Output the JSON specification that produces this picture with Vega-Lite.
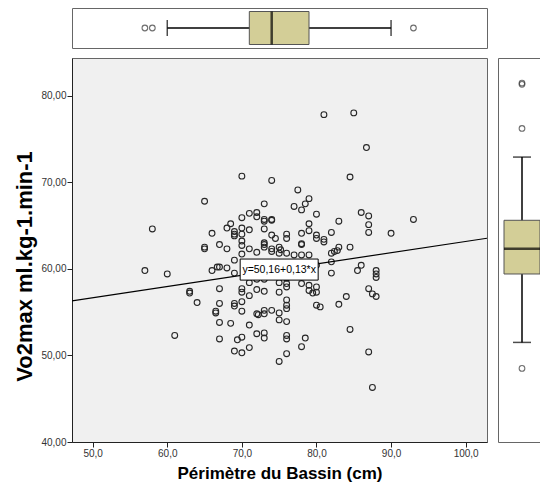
{
  "$schema": "https://vega.github.io/schema/vega-lite/v6.json",
  "background": "white",
  "padding": {"left": 13, "top": 7, "right": 0, "bottom": 0},
  "config": {
    "font": "Liberation Sans",
    "view": {"stroke": "#666"},
    "axis": {
      "grid": false,
      "domainColor": "#222",
      "tickColor": "#222",
      "tickSize": 5,
      "labelFontSize": 10,
      "labelColor": "#333",
      "labelPadding": 1,
      "titleColor": "#000",
      "titleFontWeight": "bold"
    }
  },
  "datasets": {
    "scatter": [
      {"perimetre": 57, "vo2max": 59.8}, {"perimetre": 58, "vo2max": 64.6}, {"perimetre": 60, "vo2max": 59.4}, {"perimetre": 61, "vo2max": 52.3},
      {"perimetre": 63, "vo2max": 57.4}, {"perimetre": 63, "vo2max": 57.2}, {"perimetre": 64, "vo2max": 56.1},
      {"perimetre": 65, "vo2max": 67.8}, {"perimetre": 65, "vo2max": 62.5}, {"perimetre": 65, "vo2max": 62.3},
      {"perimetre": 66, "vo2max": 64.1}, {"perimetre": 66, "vo2max": 59.8}, {"perimetre": 66.5, "vo2max": 55.1}, {"perimetre": 66.5, "vo2max": 54.9}, {"perimetre": 66.7, "vo2max": 60.2},
      {"perimetre": 67, "vo2max": 62.8}, {"perimetre": 67, "vo2max": 60.2}, {"perimetre": 67, "vo2max": 57.7}, {"perimetre": 67, "vo2max": 56.0}, {"perimetre": 67, "vo2max": 53.8}, {"perimetre": 67, "vo2max": 51.9},
      {"perimetre": 68, "vo2max": 64.7}, {"perimetre": 68, "vo2max": 62.3}, {"perimetre": 68, "vo2max": 60.1}, {"perimetre": 68.5, "vo2max": 65.2}, {"perimetre": 68.5, "vo2max": 53.7},
      {"perimetre": 69, "vo2max": 64.3}, {"perimetre": 69, "vo2max": 64.0}, {"perimetre": 69, "vo2max": 63.8}, {"perimetre": 69, "vo2max": 59.5}, {"perimetre": 69, "vo2max": 56.0}, {"perimetre": 69, "vo2max": 55.7}, {"perimetre": 69, "vo2max": 50.5}, {"perimetre": 69.4, "vo2max": 51.8}, {"perimetre": 69, "vo2max": 61.0},
      {"perimetre": 70, "vo2max": 70.7}, {"perimetre": 70, "vo2max": 65.9}, {"perimetre": 70, "vo2max": 64.7}, {"perimetre": 70, "vo2max": 64.0}, {"perimetre": 70, "vo2max": 63.2}, {"perimetre": 70, "vo2max": 62.7}, {"perimetre": 70, "vo2max": 61.7}, {"perimetre": 70, "vo2max": 57.7}, {"perimetre": 70, "vo2max": 57.3}, {"perimetre": 70, "vo2max": 56.2}, {"perimetre": 70, "vo2max": 55.1}, {"perimetre": 70, "vo2max": 52.1}, {"perimetre": 70, "vo2max": 50.3},
      {"perimetre": 71, "vo2max": 66.4}, {"perimetre": 71, "vo2max": 64.5}, {"perimetre": 71, "vo2max": 62.3}, {"perimetre": 71, "vo2max": 58.4}, {"perimetre": 71, "vo2max": 56.9}, {"perimetre": 71, "vo2max": 53.5}, {"perimetre": 71, "vo2max": 50.9}, {"perimetre": 71.5, "vo2max": 60.0},
      {"perimetre": 72, "vo2max": 66.5}, {"perimetre": 72, "vo2max": 66.0}, {"perimetre": 72, "vo2max": 61.9}, {"perimetre": 72, "vo2max": 58.8}, {"perimetre": 72, "vo2max": 57.6}, {"perimetre": 72, "vo2max": 54.8}, {"perimetre": 72.2, "vo2max": 54.7}, {"perimetre": 72, "vo2max": 52.5},
      {"perimetre": 73, "vo2max": 67.5}, {"perimetre": 73, "vo2max": 65.7}, {"perimetre": 73, "vo2max": 65.5}, {"perimetre": 73, "vo2max": 64.6}, {"perimetre": 73, "vo2max": 63.0}, {"perimetre": 73, "vo2max": 62.8}, {"perimetre": 73, "vo2max": 62.5}, {"perimetre": 73, "vo2max": 60.3}, {"perimetre": 73, "vo2max": 58.8}, {"perimetre": 73, "vo2max": 57.4}, {"perimetre": 73, "vo2max": 55.2}, {"perimetre": 73, "vo2max": 54.8}, {"perimetre": 73, "vo2max": 52.6}, {"perimetre": 73, "vo2max": 52.0},
      {"perimetre": 74, "vo2max": 70.2}, {"perimetre": 74, "vo2max": 65.7}, {"perimetre": 74, "vo2max": 65.6}, {"perimetre": 74, "vo2max": 63.9}, {"perimetre": 74, "vo2max": 62.3}, {"perimetre": 74, "vo2max": 62.0}, {"perimetre": 74, "vo2max": 55.2}, {"perimetre": 74.5, "vo2max": 63.5},
      {"perimetre": 75, "vo2max": 62.5}, {"perimetre": 75.2, "vo2max": 62.2}, {"perimetre": 75, "vo2max": 61.8}, {"perimetre": 75, "vo2max": 58.4}, {"perimetre": 75, "vo2max": 57.3}, {"perimetre": 75, "vo2max": 54.9}, {"perimetre": 75, "vo2max": 54.1}, {"perimetre": 75, "vo2max": 49.3},
      {"perimetre": 76, "vo2max": 64.0}, {"perimetre": 76, "vo2max": 63.5}, {"perimetre": 76, "vo2max": 61.8}, {"perimetre": 76, "vo2max": 60.0}, {"perimetre": 76, "vo2max": 58.9}, {"perimetre": 76, "vo2max": 58.3}, {"perimetre": 76, "vo2max": 57.9}, {"perimetre": 76, "vo2max": 56.4}, {"perimetre": 76, "vo2max": 55.8}, {"perimetre": 76, "vo2max": 55.4}, {"perimetre": 76, "vo2max": 53.9}, {"perimetre": 76, "vo2max": 52.3}, {"perimetre": 76, "vo2max": 51.9}, {"perimetre": 76, "vo2max": 50.2},
      {"perimetre": 77, "vo2max": 67.2}, {"perimetre": 77, "vo2max": 61.6}, {"perimetre": 77.5, "vo2max": 69.1},
      {"perimetre": 78, "vo2max": 66.8}, {"perimetre": 78, "vo2max": 64.1}, {"perimetre": 78, "vo2max": 62.9}, {"perimetre": 78, "vo2max": 62.8}, {"perimetre": 78, "vo2max": 61.6}, {"perimetre": 78, "vo2max": 59.6}, {"perimetre": 78, "vo2max": 58.3}, {"perimetre": 78, "vo2max": 51.0}, {"perimetre": 78.5, "vo2max": 67.5}, {"perimetre": 78.5, "vo2max": 52.0},
      {"perimetre": 79, "vo2max": 68.1}, {"perimetre": 79, "vo2max": 65.2}, {"perimetre": 79, "vo2max": 64.4}, {"perimetre": 79, "vo2max": 61.6}, {"perimetre": 79, "vo2max": 58.1}, {"perimetre": 79, "vo2max": 57.5}, {"perimetre": 79.5, "vo2max": 57.2},
      {"perimetre": 80, "vo2max": 66.3}, {"perimetre": 80, "vo2max": 63.9}, {"perimetre": 80, "vo2max": 63.5}, {"perimetre": 80, "vo2max": 60.4}, {"perimetre": 80, "vo2max": 57.9}, {"perimetre": 80, "vo2max": 57.3}, {"perimetre": 80, "vo2max": 55.8}, {"perimetre": 80.5, "vo2max": 55.6},
      {"perimetre": 81, "vo2max": 77.8}, {"perimetre": 81, "vo2max": 63.4}, {"perimetre": 81, "vo2max": 63.1},
      {"perimetre": 82, "vo2max": 64.2}, {"perimetre": 82, "vo2max": 61.8}, {"perimetre": 82, "vo2max": 60.8}, {"perimetre": 82, "vo2max": 59.5}, {"perimetre": 82.4, "vo2max": 62.0}, {"perimetre": 82.8, "vo2max": 62.1},
      {"perimetre": 83, "vo2max": 65.5}, {"perimetre": 83, "vo2max": 62.5}, {"perimetre": 83, "vo2max": 55.9}, {"perimetre": 84, "vo2max": 56.8},
      {"perimetre": 84.5, "vo2max": 70.6}, {"perimetre": 84.5, "vo2max": 62.5}, {"perimetre": 84.5, "vo2max": 53.0}, {"perimetre": 85, "vo2max": 78.0}, {"perimetre": 85.5, "vo2max": 59.8},
      {"perimetre": 86, "vo2max": 66.5}, {"perimetre": 86, "vo2max": 60.4}, {"perimetre": 86.7, "vo2max": 74.0},
      {"perimetre": 87, "vo2max": 66.1}, {"perimetre": 87, "vo2max": 65.1}, {"perimetre": 87, "vo2max": 64.2}, {"perimetre": 87, "vo2max": 57.7}, {"perimetre": 87, "vo2max": 50.4}, {"perimetre": 87.5, "vo2max": 57.1}, {"perimetre": 87.5, "vo2max": 46.3},
      {"perimetre": 88, "vo2max": 59.8}, {"perimetre": 88, "vo2max": 59.4}, {"perimetre": 88, "vo2max": 59.0}, {"perimetre": 88, "vo2max": 56.8},
      {"perimetre": 90, "vo2max": 64.1}, {"perimetre": 93, "vo2max": 65.7}
    ],
    "fitline": [
      {"perimetre": 47.23, "vo2max": 56.3},
      {"perimetre": 102.86, "vo2max": 63.53}
    ],
    "fitlabel": [
      {"perimetre": 75.0, "vo2max": 59.91, "label": "y=50,16+0,13*x"}
    ],
    "topbox": [
      {"var": "Périmètre du Bassin (cm)", "lower": 60.0, "q1": 71.0, "median": 74.0, "q3": 79.0, "upper": 90.0}
    ],
    "topout": [
      {"var": "Périmètre du Bassin (cm)", "value": 57.0},
      {"var": "Périmètre du Bassin (cm)", "value": 58.0},
      {"var": "Périmètre du Bassin (cm)", "value": 93.0}
    ],
    "rightbox": [
      {"var": "Vo2max ml.kg-1.min-1", "lower": 51.5, "q1": 59.4, "median": 62.3, "q3": 65.6, "upper": 72.9}
    ],
    "rightout": [
      {"var": "Vo2max ml.kg-1.min-1", "value": 81.3},
      {"var": "Vo2max ml.kg-1.min-1", "value": 81.45},
      {"var": "Vo2max ml.kg-1.min-1", "value": 76.2},
      {"var": "Vo2max ml.kg-1.min-1", "value": 48.5}
    ]
  },
  "columns": 2,
  "bounds": "flush",
  "spacing": {"row": 10, "column": 11},
  "concat": [
    {
      "width": 415,
      "height": 40,
      "view": {"fill": "white", "stroke": "#666"},
      "layer": [
        {
          "data": {"name": "topbox"},
          "mark": {"type": "rule", "color": "#000", "strokeWidth": 1.5},
          "encoding": {
            "x": {"field": "lower", "type": "quantitative", "scale": {"domain": [47.23, 102.86], "nice": false, "zero": false}, "axis": null},
            "x2": {"field": "upper"},
            "y": {"field": "var", "type": "nominal", "axis": null}
          }
        },
        {
          "data": {"name": "topbox"},
          "mark": {"type": "bar", "size": 33, "fill": "#D3CE97", "stroke": "#555", "strokeWidth": 1},
          "encoding": {
            "x": {"field": "q1", "type": "quantitative"},
            "x2": {"field": "q3"},
            "y": {"field": "var", "type": "nominal", "axis": null}
          }
        },
        {
          "data": {"name": "topbox"},
          "mark": {"type": "tick", "size": 33, "thickness": 2.5, "color": "#000"},
          "encoding": {
            "x": {"field": "median", "type": "quantitative"},
            "y": {"field": "var", "type": "nominal", "axis": null}
          }
        },
        {
          "data": {"name": "topbox"},
          "mark": {"type": "tick", "size": 16, "thickness": 1.5, "color": "#000"},
          "encoding": {
            "x": {"field": "lower", "type": "quantitative"},
            "y": {"field": "var", "type": "nominal", "axis": null}
          }
        },
        {
          "data": {"name": "topbox"},
          "mark": {"type": "tick", "size": 16, "thickness": 1.5, "color": "#000"},
          "encoding": {
            "x": {"field": "upper", "type": "quantitative"},
            "y": {"field": "var", "type": "nominal", "axis": null}
          }
        },
        {
          "data": {"name": "topout"},
          "mark": {"type": "point", "filled": false, "size": 32, "stroke": "#333", "strokeWidth": 1.1},
          "encoding": {
            "x": {"field": "value", "type": "quantitative"},
            "y": {"field": "var", "type": "nominal", "axis": null}
          }
        }
      ]
    },
    {
      "width": 48,
      "height": 40,
      "view": {"stroke": null, "fill": null},
      "data": {"name": "topout"},
      "mark": {"type": "point", "opacity": 0},
      "encoding": {}
    },
    {
      "width": 415,
      "height": 384,
      "view": {"fill": "#F0F0F0", "stroke": "#666"},
      "encoding": {
        "x": {
          "field": "perimetre", "type": "quantitative",
          "scale": {"domain": [47.23, 102.86], "nice": false, "zero": false},
          "axis": {
            "title": "Périmètre du Bassin (cm)",
            "titleFontSize": 17,
            "titlePadding": 7,
            "values": [50, 60, 70, 80, 90, 100],
            "labelExpr": "replace(format(datum.value, '.1f'), '.', ',')"
          }
        },
        "y": {
          "field": "vo2max", "type": "quantitative",
          "scale": {"domain": [40, 84.34], "nice": false, "zero": false},
          "axis": {
            "title": "Vo2max ml.kg-1.min-1",
            "titleFontSize": 22,
            "titlePadding": 4,
            "titleY": 208,
            "values": [40, 50, 60, 70, 80],
            "labelExpr": "replace(format(datum.value, '.2f'), '.', ',')"
          }
        }
      },
      "layer": [
        {
          "data": {"name": "scatter"},
          "mark": {"type": "point", "filled": false, "size": 34, "stroke": "#262626", "strokeWidth": 1.1, "opacity": 1}
        },
        {
          "data": {"name": "fitline"},
          "mark": {"type": "line", "color": "#000", "strokeWidth": 1.2, "clip": true}
        },
        {
          "data": {"name": "fitlabel"},
          "mark": {"type": "point", "shape": "M-1,-0.27L1,-0.27L1,0.27L-1,0.27Z", "size": 6084, "filled": true, "fill": "white", "stroke": "#000", "strokeWidth": 1, "opacity": 1}
        },
        {
          "data": {"name": "fitlabel"},
          "mark": {"type": "text", "fontSize": 10.5, "color": "#000", "align": "center", "baseline": "middle"},
          "encoding": {"text": {"field": "label"}}
        }
      ]
    },
    {
      "width": 48,
      "height": 384,
      "view": {"fill": "white", "stroke": "#666"},
      "layer": [
        {
          "data": {"name": "rightbox"},
          "mark": {"type": "rule", "color": "#000", "strokeWidth": 1.5},
          "encoding": {
            "y": {"field": "lower", "type": "quantitative", "scale": {"domain": [40, 84.34], "nice": false, "zero": false}, "axis": null},
            "y2": {"field": "upper"},
            "x": {"field": "var", "type": "nominal", "axis": null}
          }
        },
        {
          "data": {"name": "rightbox"},
          "mark": {"type": "bar", "size": 36, "fill": "#D3CE97", "stroke": "#555", "strokeWidth": 1},
          "encoding": {
            "y": {"field": "q1", "type": "quantitative"},
            "y2": {"field": "q3"},
            "x": {"field": "var", "type": "nominal", "axis": null}
          }
        },
        {
          "data": {"name": "rightbox"},
          "mark": {"type": "tick", "size": 36, "thickness": 2.5, "color": "#000"},
          "encoding": {
            "y": {"field": "median", "type": "quantitative"},
            "x": {"field": "var", "type": "nominal", "axis": null}
          }
        },
        {
          "data": {"name": "rightbox"},
          "mark": {"type": "tick", "size": 18, "thickness": 1.5, "color": "#000"},
          "encoding": {
            "y": {"field": "lower", "type": "quantitative"},
            "x": {"field": "var", "type": "nominal", "axis": null}
          }
        },
        {
          "data": {"name": "rightbox"},
          "mark": {"type": "tick", "size": 18, "thickness": 1.5, "color": "#000"},
          "encoding": {
            "y": {"field": "upper", "type": "quantitative"},
            "x": {"field": "var", "type": "nominal", "axis": null}
          }
        },
        {
          "data": {"name": "rightout"},
          "mark": {"type": "point", "filled": false, "size": 32, "stroke": "#333", "strokeWidth": 1.1},
          "encoding": {
            "y": {"field": "value", "type": "quantitative"},
            "x": {"field": "var", "type": "nominal", "axis": null}
          }
        }
      ]
    }
  ]
}
